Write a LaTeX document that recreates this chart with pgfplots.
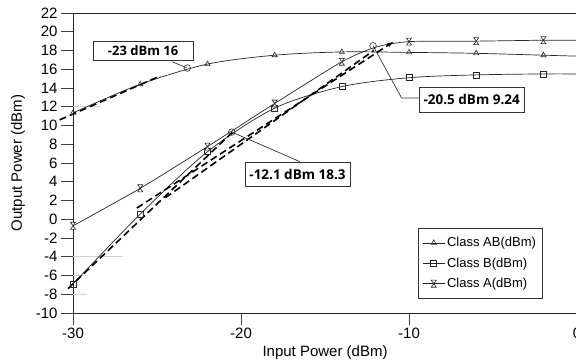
\documentclass[border=0pt]{standalone}
\usepackage{pgfplots}
\pgfplotsset{compat=1.18}
\usetikzlibrary{arrows.meta}
\usepackage{fontspec}
\setmainfont{Liberation Sans}
\newfontfamily\annfont{Open Sans}
\pgfdeclareplotmark{hourglass}{%
  \pgfpathmoveto{\pgfqpoint{-0.8\pgfplotmarksize}{1.1\pgfplotmarksize}}%
  \pgfpathlineto{\pgfqpoint{0.8\pgfplotmarksize}{1.1\pgfplotmarksize}}%
  \pgfpathlineto{\pgfqpoint{-0.8\pgfplotmarksize}{-1.1\pgfplotmarksize}}%
  \pgfpathlineto{\pgfqpoint{0.8\pgfplotmarksize}{-1.1\pgfplotmarksize}}%
  \pgfpathclose
  \pgfusepathqfillstroke}
\begin{document}
\begin{tikzpicture}
\begin{axis}[
  scale only axis, width=504pt, height=300pt,
  xmin=-30, xmax=0, ymin=-10, ymax=22,
  xtick={-30,-20,-10,0}, ytick={-10,-8,...,22},
  xtick pos=left, ytick pos=left,
  tick align=outside, major tick length=12pt,
  axis line style={draw=black!85, line width=0.9pt},
  tick style={draw=black!75, line width=0.9pt},
  /pgf/number format/assume math mode=true,
  tick label style={font=\fontsize{15}{18}\selectfont},
  label style={font=\fontsize{15}{18}\selectfont},
  xlabel={Input Power (dBm)}, ylabel={Output Power (dBm)},
  every axis y label/.append style={yshift=4pt},
  clip=false,
  legend style={at={(0.6845,0.2833)}, anchor=north west, draw=black!80, line width=0.8pt,
    font=\fontsize{13}{15}\selectfont, row sep=5.5pt, inner xsep=4pt, inner ysep=7pt,
    cells={anchor=west}},
  legend image code/.code={\draw[mark indices={2}] plot coordinates {(0pt,0pt) (11pt,0pt) (22pt,0pt)};},
]
% light grey fragments
\draw[gray!35, line width=0.8pt] (axis cs:-30,-4) -- (axis cs:-27.02,-4);
\draw[gray!35, line width=0.8pt] (axis cs:-30,-6) -- (axis cs:-29.17,-6);
\draw[gray!35, line width=0.8pt] (axis cs:-30,-8) -- (axis cs:-29.17,-8);
\draw[gray!35, line width=0.8pt] (axis cs:-30,12) -- (axis cs:-28.4,12);

\addplot[black!85, line width=0.7pt, smooth, tension=0.5, mark=triangle, mark size=3pt,
  mark indices={1,2,3,4,5,6,7,8}, mark options={solid, fill=white, line width=0.6pt}]
  coordinates {(-30,11.35) (-26,14.4) (-22,16.55) (-18,17.5) (-14,17.85) (-10,17.8) (-6,17.7) (-2,17.5) (0,17.4)};
\addlegendentry{Class AB(dBm)}
\addplot[black!85, line width=0.7pt, smooth, tension=0.5, mark=square, mark size=3pt,
  mark indices={1,2,3,4,5,6,7,8}, mark options={solid, fill=white, line width=0.6pt}]
  coordinates {(-30,-6.9) (-26,0.55) (-22,7.2) (-18,11.85) (-14,14.15) (-10,15.1) (-6,15.4) (-2,15.5) (0,15.5)};
\addlegendentry{Class B(dBm)}
\addplot[black!85, line width=0.7pt, smooth, tension=0.4, mark=hourglass, mark size=3.2pt,
  mark indices={1,2,3,4,5,7,8,9}, mark options={solid, fill=white, line width=0.6pt}]
  coordinates {(-30,-0.7) (-26,3.3) (-22,7.75) (-18,12.35) (-14,16.8) (-12,18.35) (-10,18.95) (-6,19.0) (-2,19.1) (0,19.1)};
\addlegendentry{Class A(dBm)}

% dashed asymptotes
\addplot[black, line width=1.6pt, dash pattern=on 7pt off 4pt, forget plot]
  coordinates {(-30.8,10.6) (-24.8,15.3)};
\addplot[black, line width=1.6pt, dash pattern=on 7pt off 4pt, forget plot]
  coordinates {(-30.3,-7.4) (-20.5,9.3)};
\addplot[black, line width=1.6pt, dash pattern=on 7pt off 4pt, forget plot,
  -{Stealth[length=6pt,width=4.5pt]}]
  coordinates {(-26.2,1.2) (-10.95,18.9)};
\addplot[black, line width=1.6pt, dash pattern=on 7pt off 4pt, forget plot]
  coordinates {(-24.5,2.3) (-12.1,18.0)};

% leader lines
\draw[black!80, line width=0.7pt] (axis cs:-24.1,16.8) -- (axis cs:-23.2,16.13);
\draw[black!80, line width=0.7pt] (axis cs:-20.55,9.3) -- (axis cs:-16.49,6.14);
\draw[black!80, line width=0.7pt] (axis cs:-12.14,18.5) -- (axis cs:-10.44,12.93) -- (axis cs:-9.4,12.93);

\addplot[only marks, mark=o, mark size=3.3pt, black!85, mark options={fill=white, line width=0.6pt}, forget plot]
  coordinates {(-23.2,16.13) (-20.55,9.3) (-12.14,18.5)};

\node[draw=black!80, fill=white, line width=0.8pt, font=\annfont\bfseries\fontsize{13}{15}\selectfont,
  minimum width=100pt, minimum height=19pt, inner sep=1pt] at (axis cs:-25.83,17.95) {-23 dBm 16};
\node[draw=black!80, fill=white, line width=0.8pt, font=\annfont\bfseries\fontsize{13.5}{15}\selectfont,
  minimum width=105pt, minimum height=24pt, inner sep=1pt] at (axis cs:-16.64,4.75) {-12.1 dBm 18.3};
\node[draw=black!80, fill=white, line width=0.8pt, font=\annfont\bfseries\fontsize{13.5}{15}\selectfont,
  minimum width=105pt, minimum height=25pt, inner sep=1pt] at (axis cs:-6.27,12.74) {-20.5 dBm 9.24};

\coordinate (bbsw) at (axis cs:-34.35,-15.33);
\coordinate (bbne) at (axis cs:-0.06,23.39);
\end{axis}
\pgfresetboundingbox
\useasboundingbox (bbsw) rectangle (bbne);
\end{tikzpicture}
\end{document}
